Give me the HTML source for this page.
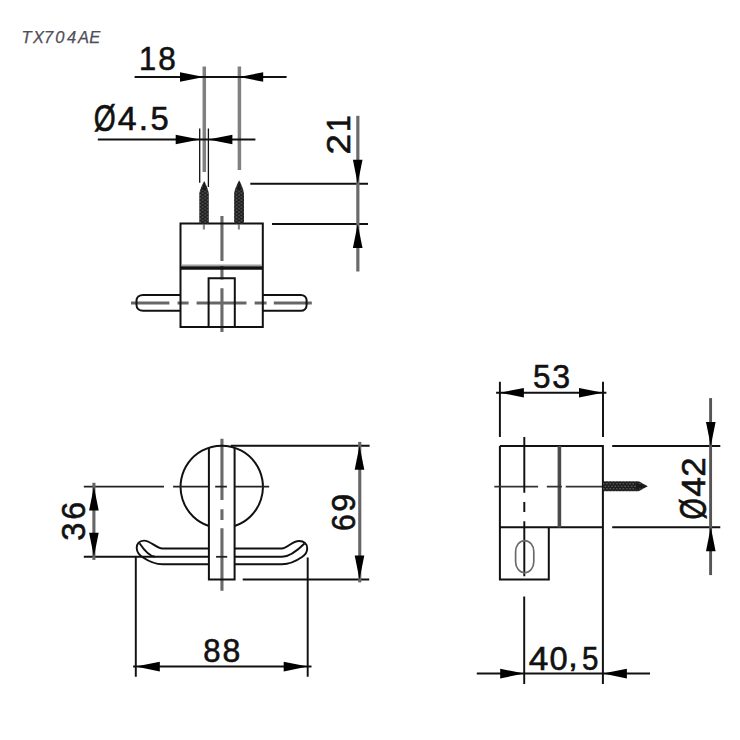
<!DOCTYPE html>
<html>
<head>
<meta charset="utf-8">
<style>
html,body{margin:0;padding:0;background:#fff;}
body{width:740px;height:740px;overflow:hidden;}
svg{display:block;}
text{font-family:"Liberation Sans",sans-serif;}
</style>
</head>
<body>
<svg width="740" height="740" viewBox="0 0 740 740">
<defs>
  <path id="ar" d="M0 0 L24 -4.8 L24 4.8 Z"/>
  <pattern id="thV" patternUnits="userSpaceOnUse" x="0" y="0.3" width="4.85" height="3.4">
    <rect width="4.85" height="3.4" fill="#1e1e1e"/>
    <ellipse cx="1.4" cy="0.9" rx="0.85" ry="0.6" fill="#7a7a7a"/>
    <ellipse cx="3.7" cy="2.6" rx="0.85" ry="0.6" fill="#7a7a7a"/>
  </pattern>
  <pattern id="thH" patternUnits="userSpaceOnUse" x="0.5" y="0" width="3.3" height="5">
    <rect width="3.3" height="5" fill="#1e1e1e"/>
    <ellipse cx="0.9" cy="1.2" rx="0.6" ry="0.7" fill="#7a7a7a"/>
    <ellipse cx="2.5" cy="3.7" rx="0.6" ry="0.7" fill="#7a7a7a"/>
  </pattern>
</defs>
<rect width="740" height="740" fill="#fff"/>

<!-- title -->
<text x="21.58 33.05 44.1 55.37 67.07 77.95 89.22" y="42.7" font-size="16.5" font-style="italic" fill="#4e4e58" stroke="#4e4e58" stroke-width="0.25">TX704AE</text>

<g fill="none" stroke-linecap="butt">
<!-- ================= TOP VIEW ================= -->
<path d="M131 303 H169.4 M177.5 303 H188.6 M196.6 303 H246.5 M254.6 303 H266.6 M273.8 303 H311.8" stroke="#666" stroke-width="2.9"/>
<path d="M221.95 216.1 V261 M221.95 265 V279.4 M221.95 288.2 V332.1" stroke="#6a6a6a" stroke-width="3.1"/>
<!-- extension grey lines for 18 -->
<path d="M204.3 66.5 V172 M239.4 66.5 V170" stroke="#808080" stroke-width="3.5"/>
<!-- dim 18 -->
<path d="M134.6 77 H286.6" stroke="#111" stroke-width="2"/>
<!-- dim Ø4.5 -->
<path d="M97.8 139.5 H255.4" stroke="#111" stroke-width="2"/>
<path d="M199.7 128.6 V182.7 M208.4 128.6 V187" stroke="#111" stroke-width="1.3"/>
<!-- screw centre dashes under body top -->
<path d="M203.9 224.4 V229.5 M238.9 224.4 V229.5" stroke="#8a8a8a" stroke-width="2.2"/>
<!-- ext lines for 21 -->
<path d="M250.3 183.7 H368 M272 224 H368" stroke="#111" stroke-width="1.95"/>
<!-- dim 21 -->
<path d="M357.85 115.8 V271.5" stroke="#6a6a6a" stroke-width="3.2"/>
<!-- body -->
<path d="M180.5 223.5 H262.8 V327 H180.5 Z" stroke="#111" stroke-width="2"/>
<path d="M181.5 265.3 H261.8" stroke="#a0a0a0" stroke-width="1.4"/>
<path d="M180.5 267.9 H262.8" stroke="#111" stroke-width="3.5"/>
<path d="M208.6 327 V278.2 H234.8 V327" stroke="#111" stroke-width="2"/>
<!-- arms -->
<path d="M180.5 295 H143.2 C139.2 295 136.5 297.2 136.5 300.6 V305 C136.5 308.5 139.2 310.7 143.2 310.7 H180.5" stroke="#111" stroke-width="2"/>
<path d="M262.8 295 H300.6 C304.2 295 306.6 297.2 306.6 300.6 V305 C306.6 308.5 304.2 310.8 300.6 310.8 H262.8" stroke="#111" stroke-width="2"/>
<!-- centre lines -->

<!-- ================= FRONT VIEW ================= -->
<path d="M221.95 438.7 V499.9 M221.95 509.2 V520.1 M221.95 528.3 V590.8" stroke="#6a6a6a" stroke-width="3.1"/>
<!-- circle arc -->
<path d="M208.9 526 A41.2 41.2 0 1 1 234.6 526" stroke="#111" stroke-width="2"/>
<!-- stem -->
<path d="M208.9 447.6 V579.5 H234.6 V447.6" stroke="#111" stroke-width="2"/>
<!-- arms -->
<path d="M208.9 548.5 H162.5 C156 548.5 151 540.6 144 540.6 C139 540.6 136.5 544 136.7 548 C136.9 552 139 555 143 557.5 C149 561.5 155 564.2 162.5 564.2 H208.9" stroke="#111" stroke-width="1.95"/>
<path d="M155 556.8 C150 556.5 144 550 139.5 543.3" stroke="#111" stroke-width="1.95"/>
<path d="M234.6 548.4 H282 C287 548.4 292 541 299.2 541 C304 541 307.2 544 307.2 548.5 C307.2 552 305 555 302 557 C297 560.5 291 564.2 282 564.2 H234.6" stroke="#111" stroke-width="1.95"/>
<path d="M234.6 556.8 H282 C289 556.8 298 550 304.5 543.5" stroke="#111" stroke-width="1.95"/>
<path d="M83.8 556.8 H208.9" stroke="#111" stroke-width="1.95"/>
<!-- centre lines -->
<path d="M83.8 486.6 H164 M173.1 486.6 H208 M215.2 486.6 H226.9 M234.9 486.6 H269.2" stroke="#222" stroke-width="1.8"/>
<path d="M216.1 556.8 H227.2" stroke="#222" stroke-width="1.8"/>
<!-- ext lines -->
<path d="M230.8 445.7 H369.6 M242.7 579.4 H369.2" stroke="#111" stroke-width="1.95"/>
<path d="M135.8 556.3 V676.8 M307.7 557.5 V676.8" stroke="#111" stroke-width="1.95"/>
<!-- dims -->
<path d="M93.9 482.8 V559.9" stroke="#666" stroke-width="3.1"/>
<path d="M359.75 441.9 V582.4" stroke="#666" stroke-width="3.1"/>
<path d="M133.1 666.6 H311.5" stroke="#111" stroke-width="2"/>

<!-- ================= SIDE VIEW ================= -->
<path d="M499.9 381.8 V437 M603 381.8 V437" stroke="#111" stroke-width="1.95"/>
<path d="M496.1 392.7 H606.4" stroke="#111" stroke-width="2"/>
<path d="M499.9 446 H602.9 V684.1 M499.9 446 V579.4 H548.8 V527.3 M499.9 527.3 H602.9" stroke="#111" stroke-width="2"/>
<path d="M559.4 446 V527.5" stroke="#4a4a4a" stroke-width="3.6"/>
<path d="M494.3 486.6 H538.1 M546.8 486.6 H561.9 M565.7 486.6 H602" stroke="#333" stroke-width="1.7"/>
<path d="M524.3 437 V492.7 M524.3 501.9 V512 M524.3 521.2 V576.2 M524.2 596.5 V684.1" stroke="#111" stroke-width="1.95"/>
<rect x="515.6" y="540.6" width="18.2" height="32.2" rx="9.1" ry="11" stroke="#6a6a6a" stroke-width="1.7"/>
<path d="M612.2 445.9 H720.3 M612.2 527.3 H720.3" stroke="#111" stroke-width="1.95"/>
<path d="M710.6 398.1 V575.1" stroke="#555" stroke-width="2.9"/>
<path d="M476.8 673.6 H650" stroke="#111" stroke-width="2"/>
</g>

<!-- screws -->
<g>
  <path d="M199.3 223.5 V193.5 C199.8 189 202.5 184 204.2 180.9 C205.9 184 208.3 189 208.8 193.5 V223.5 Z" fill="url(#thV)"/>
  <path d="M234.1 223.5 V193.5 C234.6 189 237.4 183.5 239.2 180.2 C241 183.5 243.5 189 244 193.5 V223.5 Z" fill="url(#thV)"/>
  <path d="M204.2 181.5 L202 190 H206.4 Z M239.2 181 L237 190 H241.4 Z" fill="#1a1a1a"/>
  <path d="M603 481.2 H638.8 L647.7 486.2 L638.8 491.2 H603 Z" fill="url(#thH)"/>
  <path d="M636 483 L647.7 486.2 L636 489.4 Z" fill="#1a1a1a"/>
</g>

<!-- arrows -->
<g fill="#000">
  <!-- 18 -->
  <use href="#ar" transform="translate(204 77) rotate(180)"/>
  <use href="#ar" transform="translate(239.2 77)"/>
  <!-- Ø4.5 -->
  <use href="#ar" transform="translate(199.7 139.5) rotate(180)"/>
  <use href="#ar" transform="translate(208.4 139.5)"/>
  <!-- 21 -->
  <use href="#ar" transform="translate(357.7 183.7) rotate(-90)"/>
  <use href="#ar" transform="translate(357.7 224) rotate(90)"/>
  <!-- 36 -->
  <use href="#ar" transform="translate(93.9 486.5) rotate(90)"/>
  <use href="#ar" transform="translate(93.9 556.8) rotate(-90)"/>
  <!-- 69 -->
  <use href="#ar" transform="translate(359.5 445.7) rotate(90)"/>
  <use href="#ar" transform="translate(359.5 579.4) rotate(-90)"/>
  <!-- 88 -->
  <use href="#ar" transform="translate(135.8 666.6)"/>
  <use href="#ar" transform="translate(307.7 666.6) rotate(180)"/>
  <!-- 53 -->
  <use href="#ar" transform="translate(499.9 392.7)"/>
  <use href="#ar" transform="translate(603 392.7) rotate(180)"/>
  <!-- Ø42 -->
  <use href="#ar" transform="translate(710.8 445.9) rotate(-90)"/>
  <use href="#ar" transform="translate(710.8 527.3) rotate(90)"/>
  <!-- 40,5 -->
  <use href="#ar" transform="translate(524.2 673.6) rotate(180)"/>
  <use href="#ar" transform="translate(602.9 673.6)"/>
</g>

<!-- dimension texts -->
<g fill="#111" font-size="33.8" stroke="#111" stroke-width="0.6">
<text transform="matrix(0.913 0 0 1 139.05 70)">1</text>
<text transform="matrix(0.933 0 0 1 158.129 70)">8</text>
<text transform="matrix(0.921 0 0 1 203.148 661.7)">8</text>
<text transform="matrix(0.946 0 0 1 222.511 661.7)">8</text>
<text transform="matrix(0.93 0 0 1 532.942 388.1)">5</text>
<text transform="matrix(0.949 0 0 1 552.279 388.1)">3</text>
<text transform="matrix(1.045 0 0 1 528.789 670.3)">4</text>
<text transform="matrix(0.966 0 0 1 549.425 670.3)">0</text>
<text transform="matrix(0.874 0 0 1 581.918 670.3)">5</text>
<text transform="matrix(1.055 0 0 0.85 567.996 667)">,</text>
<text transform="matrix(0.834 0 0 1.1 93.723 130.6)">Ø</text>
<text transform="matrix(1.004 0 0 1 117.821 129.8)">4</text>
<text transform="matrix(0.994 0 0 1 138.831 129.8)">.</text>
<text transform="matrix(0.967 0 0 1 150.491 129.8)">5</text>
<text transform="matrix(0 -1.091 1 0 350.4 154.555)">2</text>
<text transform="matrix(0 -0.892 1 0 350.4 131.997)">1</text>
<text transform="matrix(0 -0.973 1 0 85.2 540.853)">3</text>
<text transform="matrix(0 -0.955 1 0 85.2 519.64)">6</text>
<text transform="matrix(0 -0.898 1 0 355.3 531.041)">6</text>
<text transform="matrix(0 -0.954 1 0 355.3 511.712)">9</text>
<text transform="matrix(0 -0.809 1.1 0 705.6 519.448)">Ø</text>
<text transform="matrix(0 -1.051 1 0 704.5 496.715)">4</text>
<text transform="matrix(0 -1.033 1 0 704.5 476.655)">2</text>

</g>
</svg>
</body>
</html>
